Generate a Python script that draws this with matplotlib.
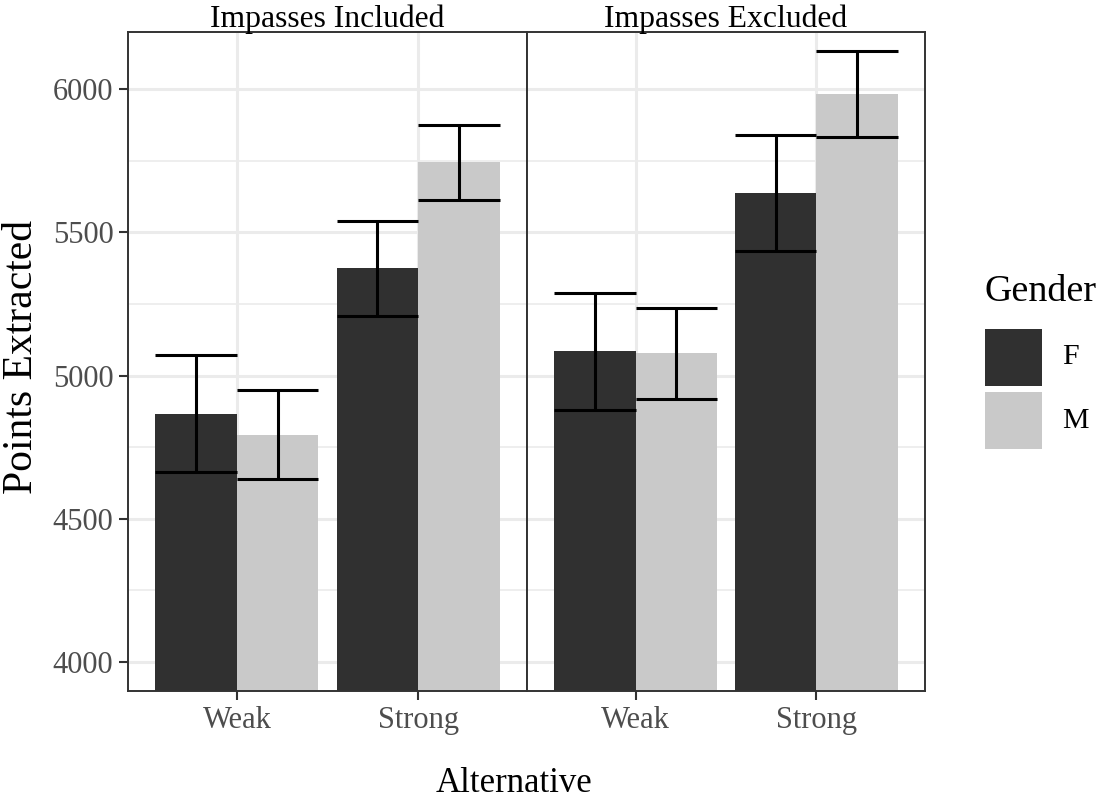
import matplotlib
matplotlib.use('Agg')
import matplotlib.pyplot as plt
from matplotlib.patches import Rectangle
import numpy as np

plt.rcParams['font.family'] = ['Liberation Serif', 'DejaVu Serif']

# data
panels = ['Impasses Included', 'Impasses Excluded']
alternatives = ['Weak', 'Strong']
genders = ['F', 'M']
means = {
    'Impasses Included': {'F': [4867, 5374], 'M': [4794, 5745]},
    'Impasses Excluded': {'F': [5084, 5636], 'M': [5077, 5983]},
}
errors = {
    'Impasses Included': {'F': [203, 165], 'M': [155, 131]},
    'Impasses Excluded': {'F': [204, 203], 'M': [159, 150]},
}
colors = {'F': '#303030', 'M': '#C9C9C9'}

W, H = 1096, 800
fig = plt.figure(figsize=(W / 100, H / 100), dpi=100)

px_l, px_m, px_r, px_t, px_b = 128, 527, 925, 32, 691
axes = []
for x0, x1 in [(px_l, px_m), (px_m, px_r)]:
    ax = fig.add_axes([x0 / W, 1 - px_b / H, (x1 - x0) / W, (px_b - px_t) / H])
    axes.append(ax)

bw = 0.45
xs = np.arange(1, len(alternatives) + 1)
for ax, panel in zip(axes, panels):
    ax.set_axisbelow(True)
    for j, g in enumerate(genders):
        xpos = xs + (j - 0.5) * bw
        m = np.array(means[panel][g])
        e = np.array(errors[panel][g])
        ax.bar(xpos, m, width=bw, color=colors[g], zorder=2)
        ax.vlines(xpos, m - e, m + e, color='black', lw=2.2, zorder=3)
        ax.hlines(np.concatenate([m - e, m + e]),
                  np.concatenate([xpos - bw / 2, xpos - bw / 2]),
                  np.concatenate([xpos + bw / 2, xpos + bw / 2]),
                  color='black', lw=2.2, zorder=3)
    ax.set_xlim(0.4, 2.6)
    ax.set_ylim(3899, 6199)
    ax.set_xticks(xs)
    ax.set_xticklabels(alternatives)
    ax.set_yticks([4000, 4500, 5000, 5500, 6000])
    ax.set_yticks([4250, 4750, 5250, 5750], minor=True)
    ax.grid(True, which='major', color='#EBEBEB', lw=2.2)
    ax.grid(True, which='minor', axis='y', color='#EBEBEB', lw=1.2)
    ax.tick_params(which='major', length=6.5, width=1.5, color='#333333',
                   labelsize=22, labelcolor='#4D4D4D', pad=4)
    ax.tick_params(which='minor', length=0)
    for s in ax.spines.values():
        s.set_color('#333333')
        s.set_linewidth(1.4)
    ax.text(0.5, 1 + 5 / (px_b - px_t), panel, transform=ax.transAxes,
            ha='center', va='baseline', fontsize=22.8, color='black')

axes[1].tick_params(axis='y', which='major', length=0, labelleft=False)

fig.text(514 / W, 1 - 792 / H, 'Alternative', ha='center', va='baseline', fontsize=25)
fig.text(22 / W, 1 - 357 / H, 'Points Extracted', ha='center', va='center',
         rotation=90, fontsize=30)

# legend, laid out in figure pixels
lg = fig.add_axes([0, 0, 1, 1], zorder=-1)
lg.set_xlim(0, W)
lg.set_ylim(H, 0)
lg.axis('off')
lg.text(985, 301, 'Gender', ha='left', va='baseline', fontsize=27.4)
key = 57
for i, g in enumerate(genders):
    y0 = 329 + i * (key + 6)
    lg.add_patch(Rectangle((985, y0), key, key, facecolor=colors[g], edgecolor='none'))
    lg.text(1062, y0 + key / 2, g, ha='left', va='center', fontsize=21.5)

fig.savefig('out.png', dpi=100)
